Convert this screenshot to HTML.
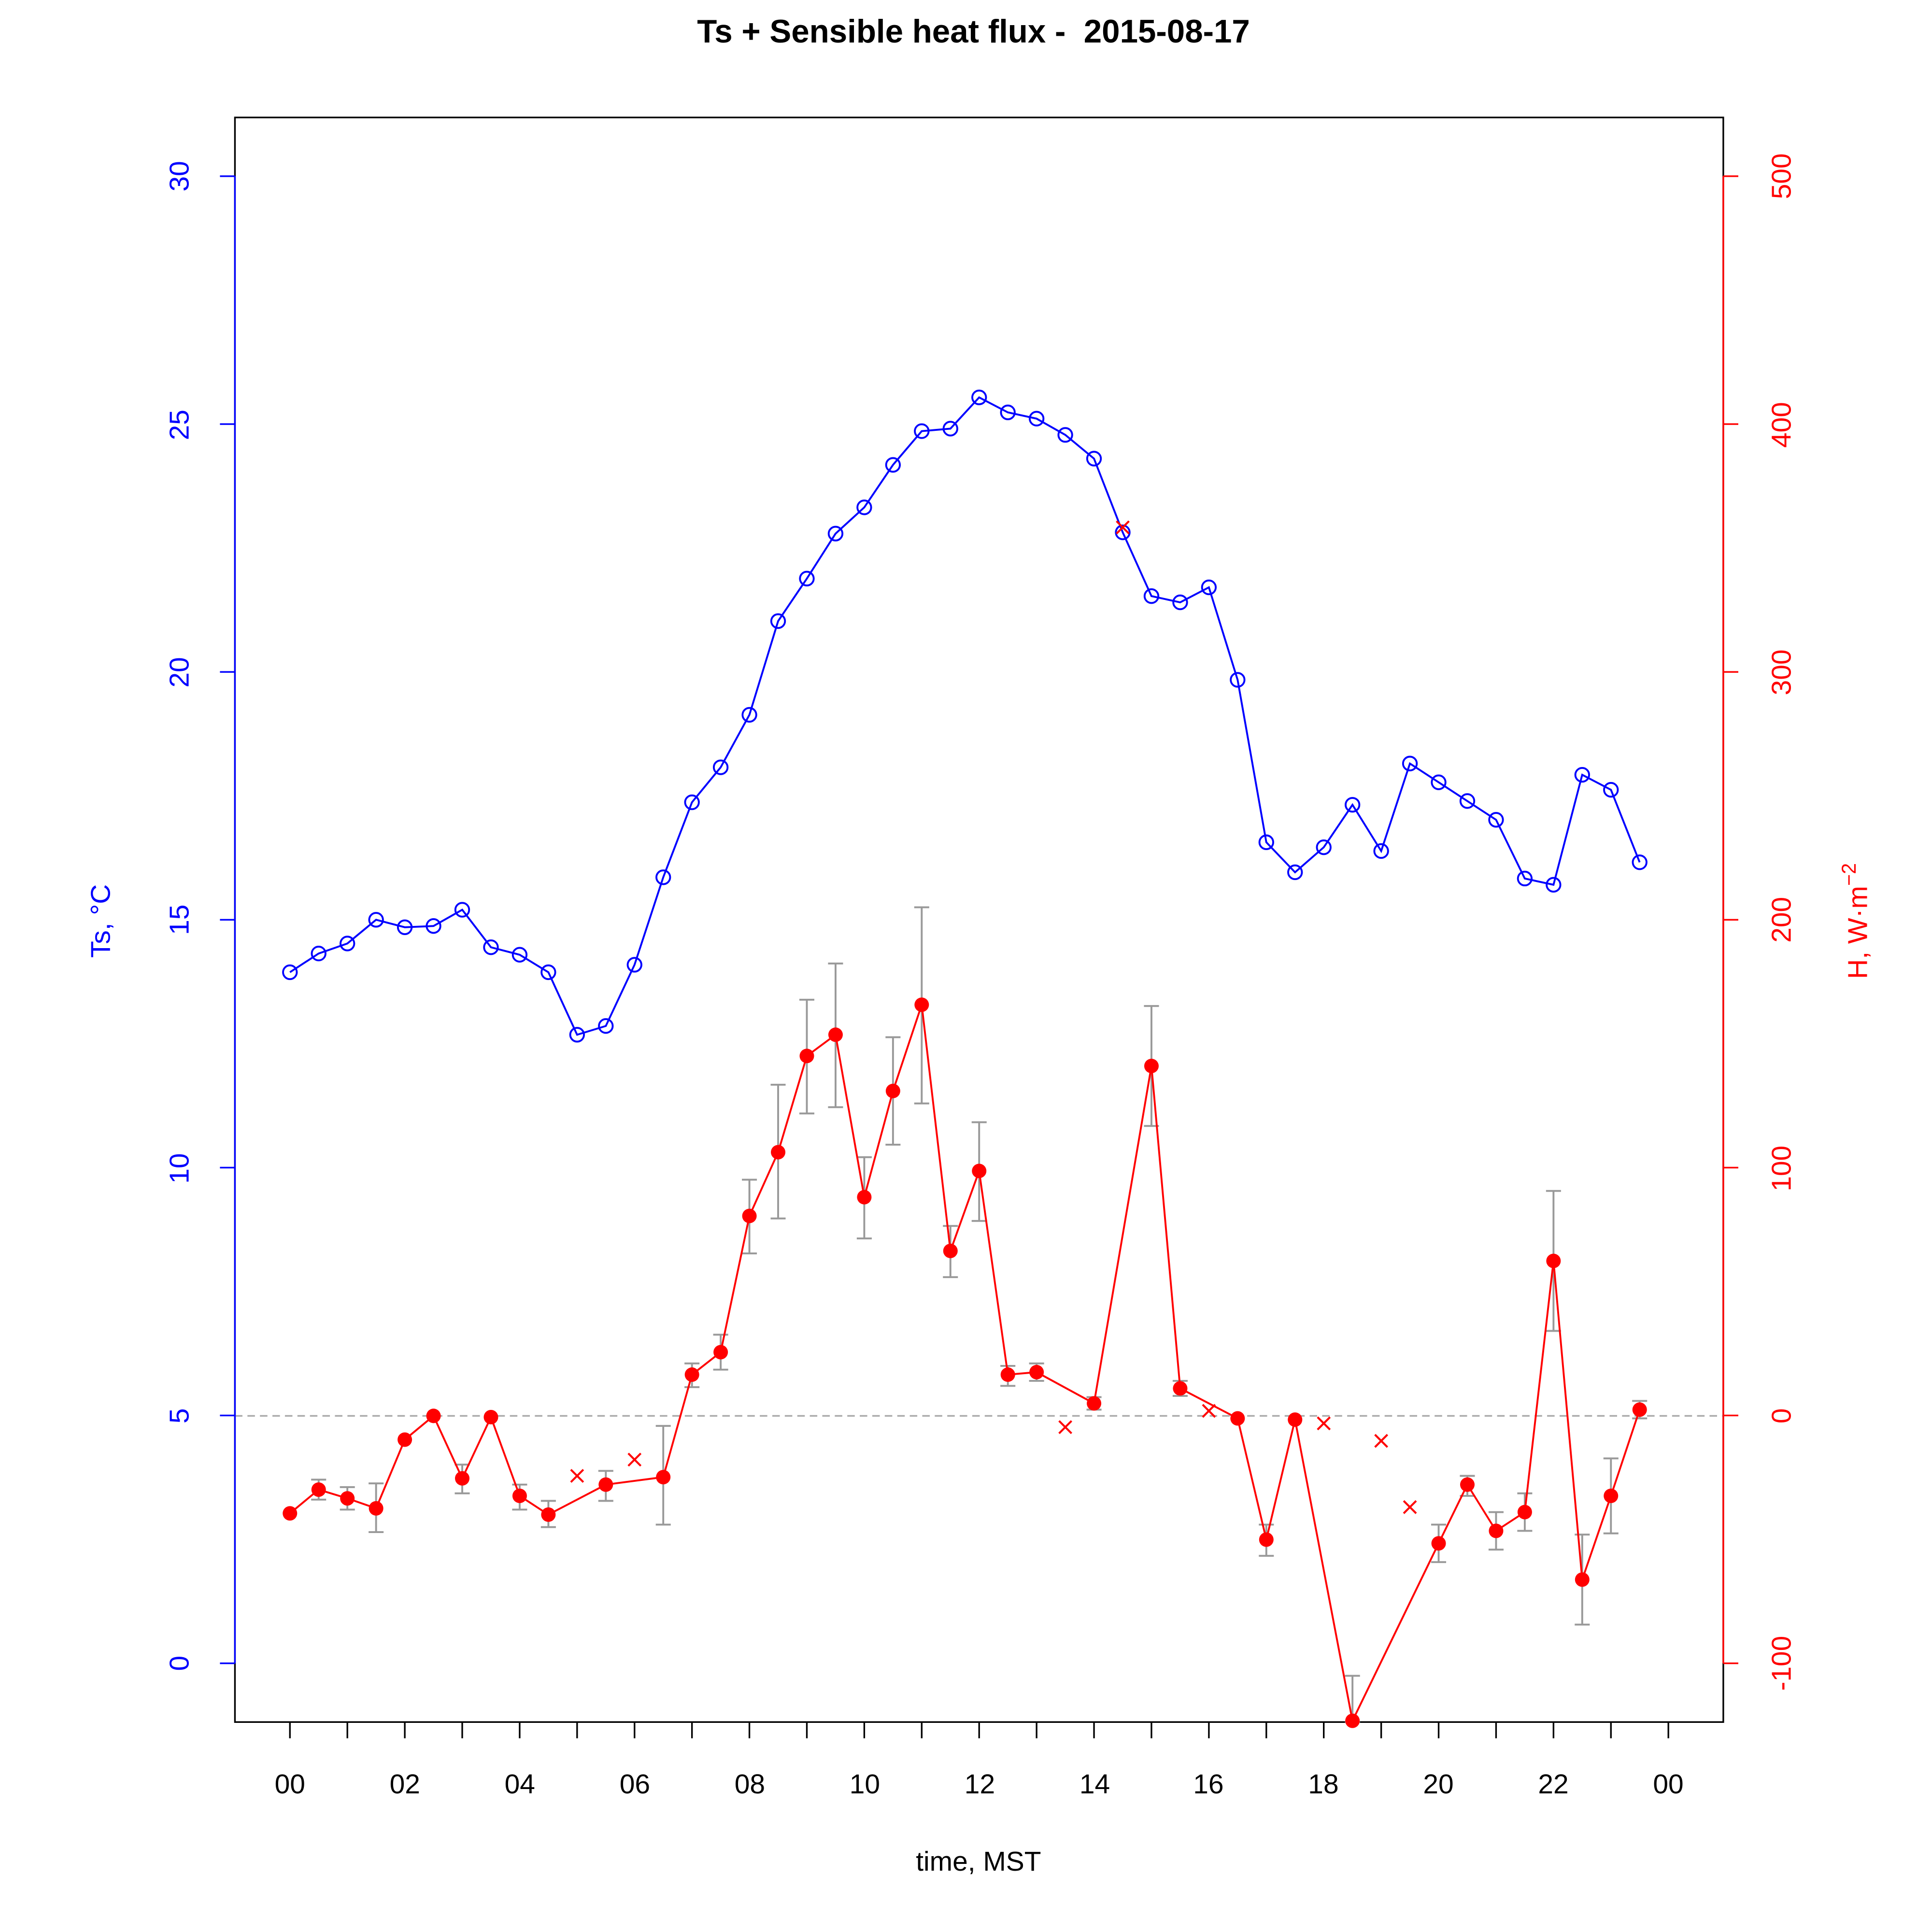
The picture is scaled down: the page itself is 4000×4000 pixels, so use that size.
<!DOCTYPE html>
<html><head><meta charset="utf-8"><style>html,body{margin:0;padding:0;background:#fff}svg{display:block}</style></head>
<body>
<svg id="s" xmlns="http://www.w3.org/2000/svg" width="4000" height="4000" viewBox="0 0 1546 1546" font-family="Liberation Sans, Arial, sans-serif">
<rect width="1546" height="1546" fill="#fff"/>
<text x="779" y="34" text-anchor="middle" font-size="26" font-weight="bold">Ts + Sensible heat flux - &#160;2015-08-17</text>
<rect x="188" y="94" width="1191" height="1284" fill="none" stroke="#000" stroke-width="1.3"/>
<line x1="188" y1="1133" x2="1379" y2="1133" stroke="#aaa" stroke-width="1.3" stroke-dasharray="6,4"/>
<g id="axes"></g>
<g font-size="22" fill="#000" text-anchor="middle">
<text x="232" y="1435">00</text><text x="324" y="1435">02</text><text x="416" y="1435">04</text><text x="508" y="1435">06</text><text x="600" y="1435">08</text><text x="692" y="1435">10</text><text x="784" y="1435">12</text><text x="876" y="1435">14</text><text x="967" y="1435">16</text><text x="1059" y="1435">18</text><text x="1151" y="1435">20</text><text x="1243" y="1435">22</text><text x="1335" y="1435">00</text>
<text x="783" y="1497">time, MST</text>
</g>
<g font-size="22" fill="#00f" text-anchor="middle">
<text transform="translate(151,1331) rotate(-90)">0</text>
<text transform="translate(151,1133) rotate(-90)">5</text>
<text transform="translate(151,935) rotate(-90)">10</text>
<text transform="translate(151,736) rotate(-90)">15</text>
<text transform="translate(151,538) rotate(-90)">20</text>
<text transform="translate(151,340) rotate(-90)">25</text>
<text transform="translate(151,141) rotate(-90)">30</text>
<text transform="translate(88,737) rotate(-90)">Ts, °C</text>
</g>
<g font-size="22" fill="#f00" text-anchor="middle">
<text transform="translate(1433,1331) rotate(-90)">-100</text>
<text transform="translate(1433,1133) rotate(-90)">0</text>
<text transform="translate(1433,935) rotate(-90)">100</text>
<text transform="translate(1433,736) rotate(-90)">200</text>
<text transform="translate(1433,538) rotate(-90)">300</text>
<text transform="translate(1433,340) rotate(-90)">400</text>
<text transform="translate(1433,141) rotate(-90)">500</text>
<text transform="translate(1494,737) rotate(-90)">H, W·m<tspan font-size="16" dy="-9">−2</tspan></text>
</g>
<g id="data"></g>
</svg>
<script>
var NS="http://www.w3.org/2000/svg";
function el(p,t,a){var e=document.createElementNS(NS,t);for(var k in a)e.setAttribute(k,a[k]);p.appendChild(e);return e;}
var ax=document.getElementById("axes"),d=document.getElementById("data");
function X(h){return 232+h*45.96;}
for(var h=0;h<=24;h++)el(ax,"line",{x1:X(h),y1:1378,x2:X(h),y2:1391,stroke:"#000","stroke-width":1.3});
el(ax,"line",{x1:188,y1:141,x2:188,y2:1331,stroke:"#00f","stroke-width":1.3});
el(ax,"line",{x1:1379,y1:141,x2:1379,y2:1331,stroke:"#f00","stroke-width":1.3});
for(var i=0;i<7;i++){var y=1331-i*198.33;
el(ax,"line",{x1:176,y1:y,x2:188,y2:y,stroke:"#00f","stroke-width":1.3});
el(ax,"line",{x1:1379,y1:y,x2:1391,y2:y,stroke:"#f00","stroke-width":1.3});}
var ts=[778,763,755,736,742,741,728,758,764,778,828,821,772,702,642,614,572,497,463,427,406,372,345,343,318,330,335,348,367,426,477,482,470,544,674,698,678,644,681,611,626,641,656,703,708,620,632,690];
var pts=ts.map(function(y,i){return X(i/2)+","+y}).join(" ");
el(d,"polyline",{points:pts,fill:"none",stroke:"#00f","stroke-width":1.5});
ts.forEach(function(y,i){el(d,"circle",{cx:X(i/2),cy:y,r:5.5,fill:"none",stroke:"#00f","stroke-width":1.5});});
var err=[[0.5,1184,1200],[1,1190,1208],[1.5,1187,1226],[3,1172,1195],[4,1188,1208],[4.5,1201,1222],[5.5,1177,1201],[6.5,1141,1220],[7,1091,1110],[7.5,1068,1096],[8,944,1003],[8.5,868,975],[9,800,891],[9.5,771,886],[10,926,991],[10.5,830,916],[11,726,883],[11.5,981,1022],[12,898,977],[12.5,1093,1109],[13,1091,1105],[14,1118,1128],[15,805,901],[15.5,1105,1117],[17,1220,1245],[18.5,1341,1378],[20,1220,1250],[20.5,1181,1197],[21,1210,1240],[21.5,1195,1225],[22,953,1065],[22.5,1228,1300],[23,1167,1227],[23.5,1121,1135]];
err.forEach(function(e){var x=X(e[0]);
el(d,"line",{x1:x,y1:e[1],x2:x,y2:e[2],stroke:"#999","stroke-width":1.5});
el(d,"line",{x1:x-6,y1:e[1],x2:x+6,y2:e[1],stroke:"#999","stroke-width":1.5});
el(d,"line",{x1:x-6,y1:e[2],x2:x+6,y2:e[2],stroke:"#999","stroke-width":1.5});});
var H=[[0,1211],[0.5,1192],[1,1199],[1.5,1207],[2,1152],[2.5,1133],[3,1183],[3.5,1134],[4,1197],[4.5,1212],[5.5,1188],[6.5,1182],[7,1100],[7.5,1082],[8,973],[8.5,922],[9,845],[9.5,828],[10,958],[10.5,873],[11,804],[11.5,1001],[12,937],[12.5,1100],[13,1098],[14,1123],[15,853],[15.5,1111],[16.5,1135],[17,1232],[17.5,1136],[18.5,1377],[20,1235],[20.5,1188],[21,1225],[21.5,1210],[22,1009],[22.5,1264],[23,1197],[23.5,1128]];
el(d,"polyline",{points:H.map(function(p){return X(p[0])+","+p[1]}).join(" "),fill:"none",stroke:"#f00","stroke-width":1.5});
H.forEach(function(p){el(d,"circle",{cx:X(p[0]),cy:p[1],r:5.8,fill:"#f00"});});
var xs=[[5,1181],[6,1168],[13.5,1142],[14.5,422],[16,1129],[18,1139],[19,1153],[19.5,1206]];
xs.forEach(function(p){var x=X(p[0]),y=p[1],r=5;
el(d,"line",{x1:x-r,y1:y-r,x2:x+r,y2:y+r,stroke:"#f00","stroke-width":1.6});
el(d,"line",{x1:x-r,y1:y+r,x2:x+r,y2:y-r,stroke:"#f00","stroke-width":1.6});});
</script>
</body></html>
